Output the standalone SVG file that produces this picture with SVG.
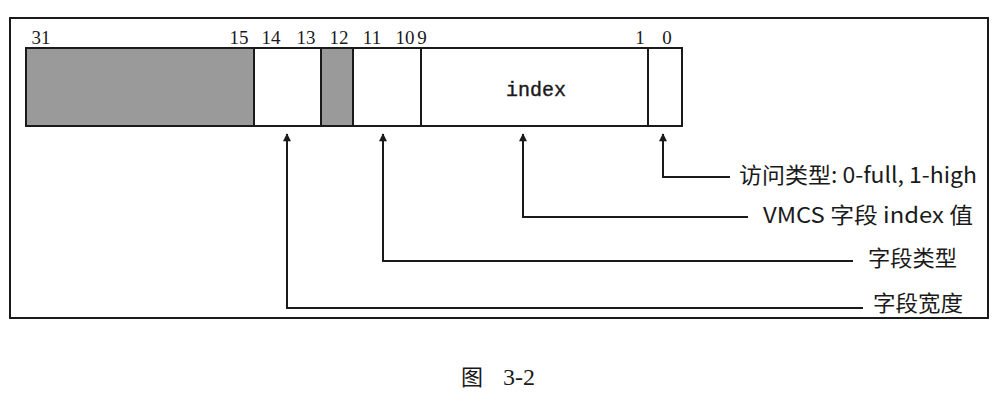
<svg xmlns="http://www.w3.org/2000/svg" width="1000" height="402" viewBox="0 0 1000 402">
  <defs>
    <marker id="ah" viewBox="0 0 10 10" refX="9" refY="5" markerWidth="9" markerHeight="8" markerUnits="userSpaceOnUse" orient="auto">
      <path d="M0,0 L10,5 L0,10 z" fill="#1a1a1a"/>
    </marker>
  </defs>
  <style>
    .frame{fill:#fff;stroke:#1a1a1a;stroke-width:2}
    .cell{stroke:#1a1a1a;stroke-width:2}
    .grey{fill:#9a9a9a}
    .white{fill:#fff}
    .bit{font-family:"Liberation Serif",serif;font-size:19px;fill:#1a1a1a;text-anchor:middle}
    .idx{font-family:"Liberation Mono",monospace;font-size:20px;fill:#1a1a1a;text-anchor:middle;stroke:#1a1a1a;stroke-width:0.4}
    .lbl{font-family:"Noto Sans CJK SC","Noto Sans",sans-serif;font-size:22px;fill:#1a1a1a}
    .cap{font-family:"Liberation Serif","Noto Sans CJK SC",serif;font-size:22px;fill:#1a1a1a}
    .con{fill:none;stroke:#1a1a1a;stroke-width:2;marker-end:url(#ah)}
  </style>
  <rect width="1000" height="402" fill="#fff"/>
  <rect class="frame" x="10" y="18" width="978" height="300"/>

  <g id="register">
    <rect class="cell grey" x="26" y="48" width="228" height="78"/>
    <rect class="cell white" x="254" y="48" width="67" height="78"/>
    <rect class="cell grey" x="321" y="48" width="32" height="78"/>
    <rect class="cell white" x="353" y="48" width="68" height="78"/>
    <rect class="cell white" x="421" y="48" width="227" height="78"/>
    <rect class="cell white" x="648" y="48" width="34" height="78"/>
    <text class="idx" x="536" y="96">index</text>
  </g>

  <g id="bits">
    <text class="bit" x="41" y="44">31</text>
    <text class="bit" x="239" y="44">15</text>
    <text class="bit" x="271" y="44">14</text>
    <text class="bit" x="306" y="44">13</text>
    <text class="bit" x="339" y="44">12</text>
    <text class="bit" x="372" y="44">11</text>
    <text class="bit" x="405" y="44">10</text>
    <text class="bit" x="422" y="44">9</text>
    <text class="bit" x="640" y="44">1</text>
    <text class="bit" x="667" y="44">0</text>
  </g>

  <g id="connectors">
    <path class="con" d="M863,308 H287 V134"/>
    <path class="con" d="M853,261 H383 V134"/>
    <path class="con" d="M748,217 H523 V134"/>
    <path class="con" d="M730,177 H663 V134"/>
  </g>

  <g id="label-access"><text class="lbl" x="739" y="183" textLength="238" lengthAdjust="spacingAndGlyphs">访问类型: 0-full, 1-high</text></g>
  <g id="label-index"><text class="lbl" x="763" y="223" textLength="210" lengthAdjust="spacingAndGlyphs">VMCS 字段 index 值</text></g>
  <g id="label-type"><text class="lbl" x="868" y="266" textLength="89" lengthAdjust="spacingAndGlyphs">字段类型</text></g>
  <g id="label-width"><text class="lbl" x="873" y="311" textLength="90" lengthAdjust="spacingAndGlyphs">字段宽度</text></g>

  <text class="cap" y="385"><tspan x="461">图</tspan><tspan x="503" style="font-size:24px">3-2</tspan></text>
</svg>
